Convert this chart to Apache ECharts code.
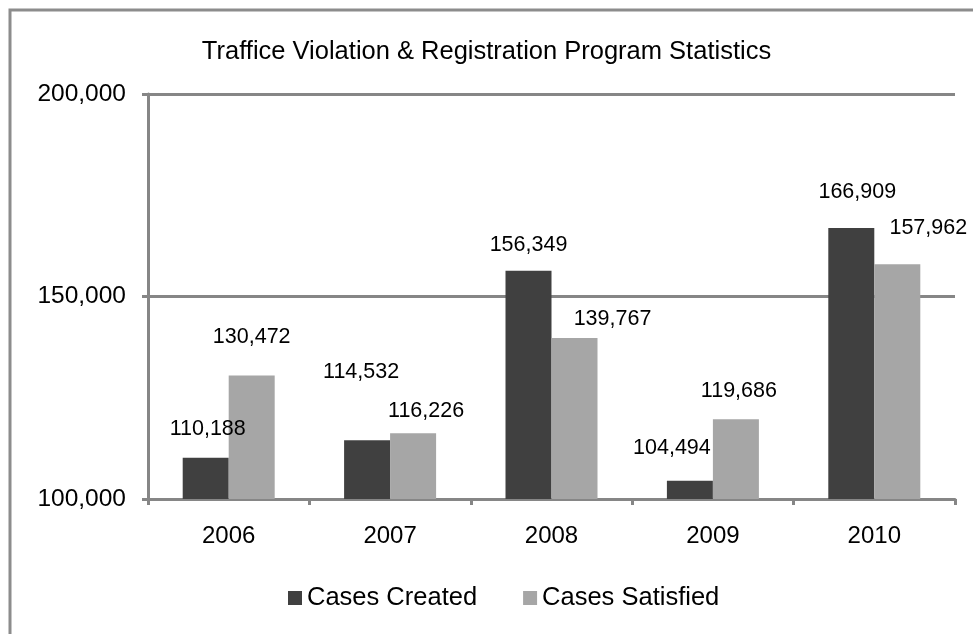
<!DOCTYPE html>
<html>
<head>
<meta charset="utf-8">
<script src="https://cdn.jsdelivr.net/npm/echarts@6/dist/echarts.min.js"></script>
<style>
  html, body { margin: 0; padding: 0; background: #fff; }
  #main { width: 973px; height: 634px; }
</style>
</head>
<body>
<div id="main"></div>
<script>
var years = ['2006', '2007', '2008', '2009', '2010'];
var casesCreated = [110188, 114532, 156349, 104494, 166909];
var casesSatisfied = [130472, 116226, 139767, 119686, 157962];
var yTicks = [100000, 150000, 200000];

// label nudges, copied by eye from the reference (Excel placed them by hand)
var createdNudge = [[2, -18], [-6, -57], [0, -15], [-18, -22], [6, -25]];
var satisfiedNudge = [[0, -28], [13, -11], [38, -8], [3, -17], [31, -25]];

var fontFamily = '"Liberation Sans", Arial, sans-serif';
var axisGray = '#868686';

function fmt(v) {
  return v.toLocaleString('en-US');
}

function withLabels(values, nudge) {
  return values.map(function(v, i) {
    return { value: v, label: { offset: nudge[i] } };
  });
}

var chart = echarts.init(document.getElementById('main'));
chart.setOption({
  animation: false,
  textStyle: { fontFamily: fontFamily },
  graphic: [{
    type: 'rect',
    shape: { x: 10, y: 10, width: 1000, height: 700 },
    style: { fill: 'none', stroke: '#8c8c8c', lineWidth: 3 },
    silent: true
  }],
  title: {
    text: 'Traffice Violation & Registration Program Statistics',
    left: 'center',
    top: 34,
    textStyle: { fontFamily: fontFamily, fontSize: 25.5, fontWeight: 'normal', color: '#000' }
  },
  legend: {
    bottom: 18,
    left: 283,
    itemWidth: 14,
    itemHeight: 14,
    itemGap: 46,
    icon: 'rect',
    textStyle: { fontFamily: fontFamily, fontSize: 25.5, color: '#000' },
    data: ['Cases Created', 'Cases Satisfied']
  },
  grid: {
    left: 148,
    right: 18,
    top: 94,
    bottom: 135
  },
  xAxis: {
    type: 'category',
    data: years,
    axisLine: { lineStyle: { color: axisGray, width: 3 } },
    axisTick: { show: true, alignWithLabel: false, length: 6, lineStyle: { color: axisGray, width: 3 } },
    axisLabel: { color: '#000', fontSize: 24, margin: 25, fontFamily: fontFamily }
  },
  yAxis: {
    type: 'value',
    min: yTicks[0],
    max: yTicks[yTicks.length - 1],
    interval: 50000,
    axisLine: { show: true, lineStyle: { color: axisGray, width: 3 } },
    axisTick: { show: true, length: 6, lineStyle: { color: axisGray, width: 3 } },
    axisLabel: {
      color: '#000', fontSize: 24.5, margin: 22, fontFamily: fontFamily,
      formatter: function(v) { return fmt(v); }
    },
    splitLine: { show: true, lineStyle: { color: axisGray, width: 3 } }
  },
  series: [
    {
      name: 'Cases Created',
      type: 'bar',
      barWidth: 46,
      barGap: '0%',
      itemStyle: { color: '#404040' },
      label: {
        show: true, position: 'top', distance: 0,
        color: '#000', fontSize: 21.5, fontFamily: fontFamily,
        formatter: function(p) { return fmt(p.value); }
      },
      data: withLabels(casesCreated, createdNudge)
    },
    {
      name: 'Cases Satisfied',
      type: 'bar',
      barWidth: 46,
      barGap: '0%',
      itemStyle: { color: '#a6a6a6' },
      label: {
        show: true, position: 'top', distance: 0,
        color: '#000', fontSize: 21.5, fontFamily: fontFamily,
        formatter: function(p) { return fmt(p.value); }
      },
      data: withLabels(casesSatisfied, satisfiedNudge)
    }
  ]
});
</script>
</body>
</html>
